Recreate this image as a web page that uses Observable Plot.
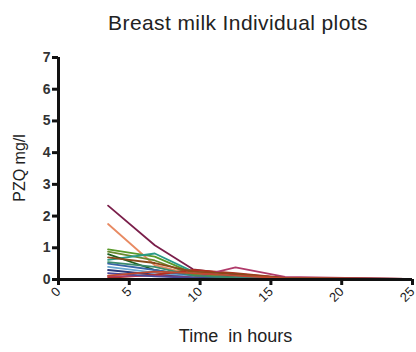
<!DOCTYPE html>
<html>
<head>
<meta charset="utf-8">
<script src="https://cdn.jsdelivr.net/npm/d3@7"></script>
<script src="https://cdn.jsdelivr.net/npm/@observablehq/plot@0.6"></script>
<style>
  html, body { margin: 0; padding: 0; background: #fff; }
  #wrap { position: relative; width: 416px; height: 352px; font-family: "Liberation Sans", Arial, sans-serif; }
  #title { position: absolute; top: 12px; left: 60px; width: 356px; text-align: center; font-size: 21px; line-height: 21px; letter-spacing: 0.4px; color: #222; z-index: 2; }
  #ylabel { position: absolute; left: 20px; top: 168px; transform: translate(-50%, -50%) rotate(-90deg); white-space: nowrap; font-size: 16px; line-height: 16px; color: #222; z-index: 2; }
  #chart { position: absolute; top: 0; left: 0; z-index: 1; }
</style>
</head>
<body>
<div id="wrap">
  <div id="chart"></div>
  <div id="title"></div>
  <div id="ylabel"></div>
</div>
<script>
const chartTitle = "Breast milk Individual plots";
const xLabel = "Time  in hours";
const yLabel = "PZQ mg/l";
const xTicks = [0, 5, 10, 15, 20, 25];
const yTicks = [0, 1, 2, 3, 4, 5, 6, 7];

const times = [3.5, 6.8, 9.5, 12.5, 16, 24.5];

const s01 = [2.33, 1.08, 0.32, 0.15, 0.05, 0.02];
const s02 = [1.75, 0.45, 0.15, 0.08, 0.03, 0.01];
const s03 = [0.95, 0.72, 0.2, 0.1, 0.03, 0.01];
const s04 = [0.88, 0.6, 0.15, 0.06, 0.02, 0.01];
const s05 = [0.62, 0.82, 0.25, 0.1, 0.03, 0.01];
const s06 = [0.8, 0.3, 0.1, 0.05, 0.02, 0.01];
const s07 = [0.5, 0.3, 0.1, 0.05, 0.02, 0.01];
const s08 = [0.4, 0.22, 0.08, 0.04, 0.02, 0.01];
const s09 = [0.3, 0.15, 0.06, 0.03, 0.01, 0.0];
const s10 = [0.05, 0.15, 0.3, 0.2, 0.05, 0.02];
const s11 = [0.1, 0.12, 0.06, 0.38, 0.08, 0.02];
const s12 = [0.7, 0.52, 0.25, 0.18, 0.05, 0.02];
const s13 = [0.2, 0.1, 0.05, 0.02, 0.01, 0.0];
const s14 = [0.55, 0.4, 0.12, 0.05, 0.02, 0.01];
const s15 = [0.12, 0.25, 0.2, 0.12, 0.04, 0.01];

const subjects = [s01, s02, s03, s04, s05, s06, s07, s08, s09, s10, s11, s12, s13, s14, s15];
const colors = ["#7a1e4a", "#e88a62", "#5a9a2a", "#6a8a30", "#2a9a88", "#1d5e1d",
                "#3a66a8", "#6aa6d0", "#2a3a7a", "#b03020", "#b03a6a", "#8a4a1a",
                "#4a4a9a", "#3a8a6a", "#c04a30"];

document.getElementById("title").textContent = chartTitle;
document.getElementById("ylabel").textContent = yLabel;

const rows = [];
subjects.forEach((vals, i) => {
  vals.forEach((v, j) => rows.push({id: "S" + (i + 1), t: times[j], v}));
});

const plot = Plot.plot({
  width: 416,
  height: 352,
  marginLeft: 58,
  marginRight: 4,
  marginTop: 57,
  marginBottom: 73,
  style: {fontFamily: "'Liberation Sans', Arial, sans-serif", background: "#fff", color: "#222"},
  x: {domain: [0, 25]},
  y: {domain: [0, 7]},
  color: {domain: subjects.map((_, i) => "S" + (i + 1)), range: colors},
  marks: [
    Plot.line(rows, {x: "t", y: "v", z: "id", stroke: "id", strokeWidth: 1.8}),
    Plot.axisX({ticks: xTicks, tickSize: 6, tickRotate: -45, tickPadding: 4,
      strokeWidth: 3, stroke: "#111", fontSize: 13, fill: "#222", label: null}),
    Plot.axisY({ticks: yTicks, tickSize: 6, tickPadding: 2, tickFormat: d3.format("d"),
      strokeWidth: 3, stroke: "#111", fontSize: 14, fontWeight: "bold", fill: "#333",
      label: null}),
    Plot.text([xLabel], {frameAnchor: "bottom", dy: 62, fontSize: 18, fill: "#222"}),
    Plot.ruleX([0], {stroke: "#111", strokeWidth: 3}),
    Plot.ruleY([0], {stroke: "#111", strokeWidth: 3})
  ]
});
document.getElementById("chart").appendChild(plot);
</script>
</body>
</html>
